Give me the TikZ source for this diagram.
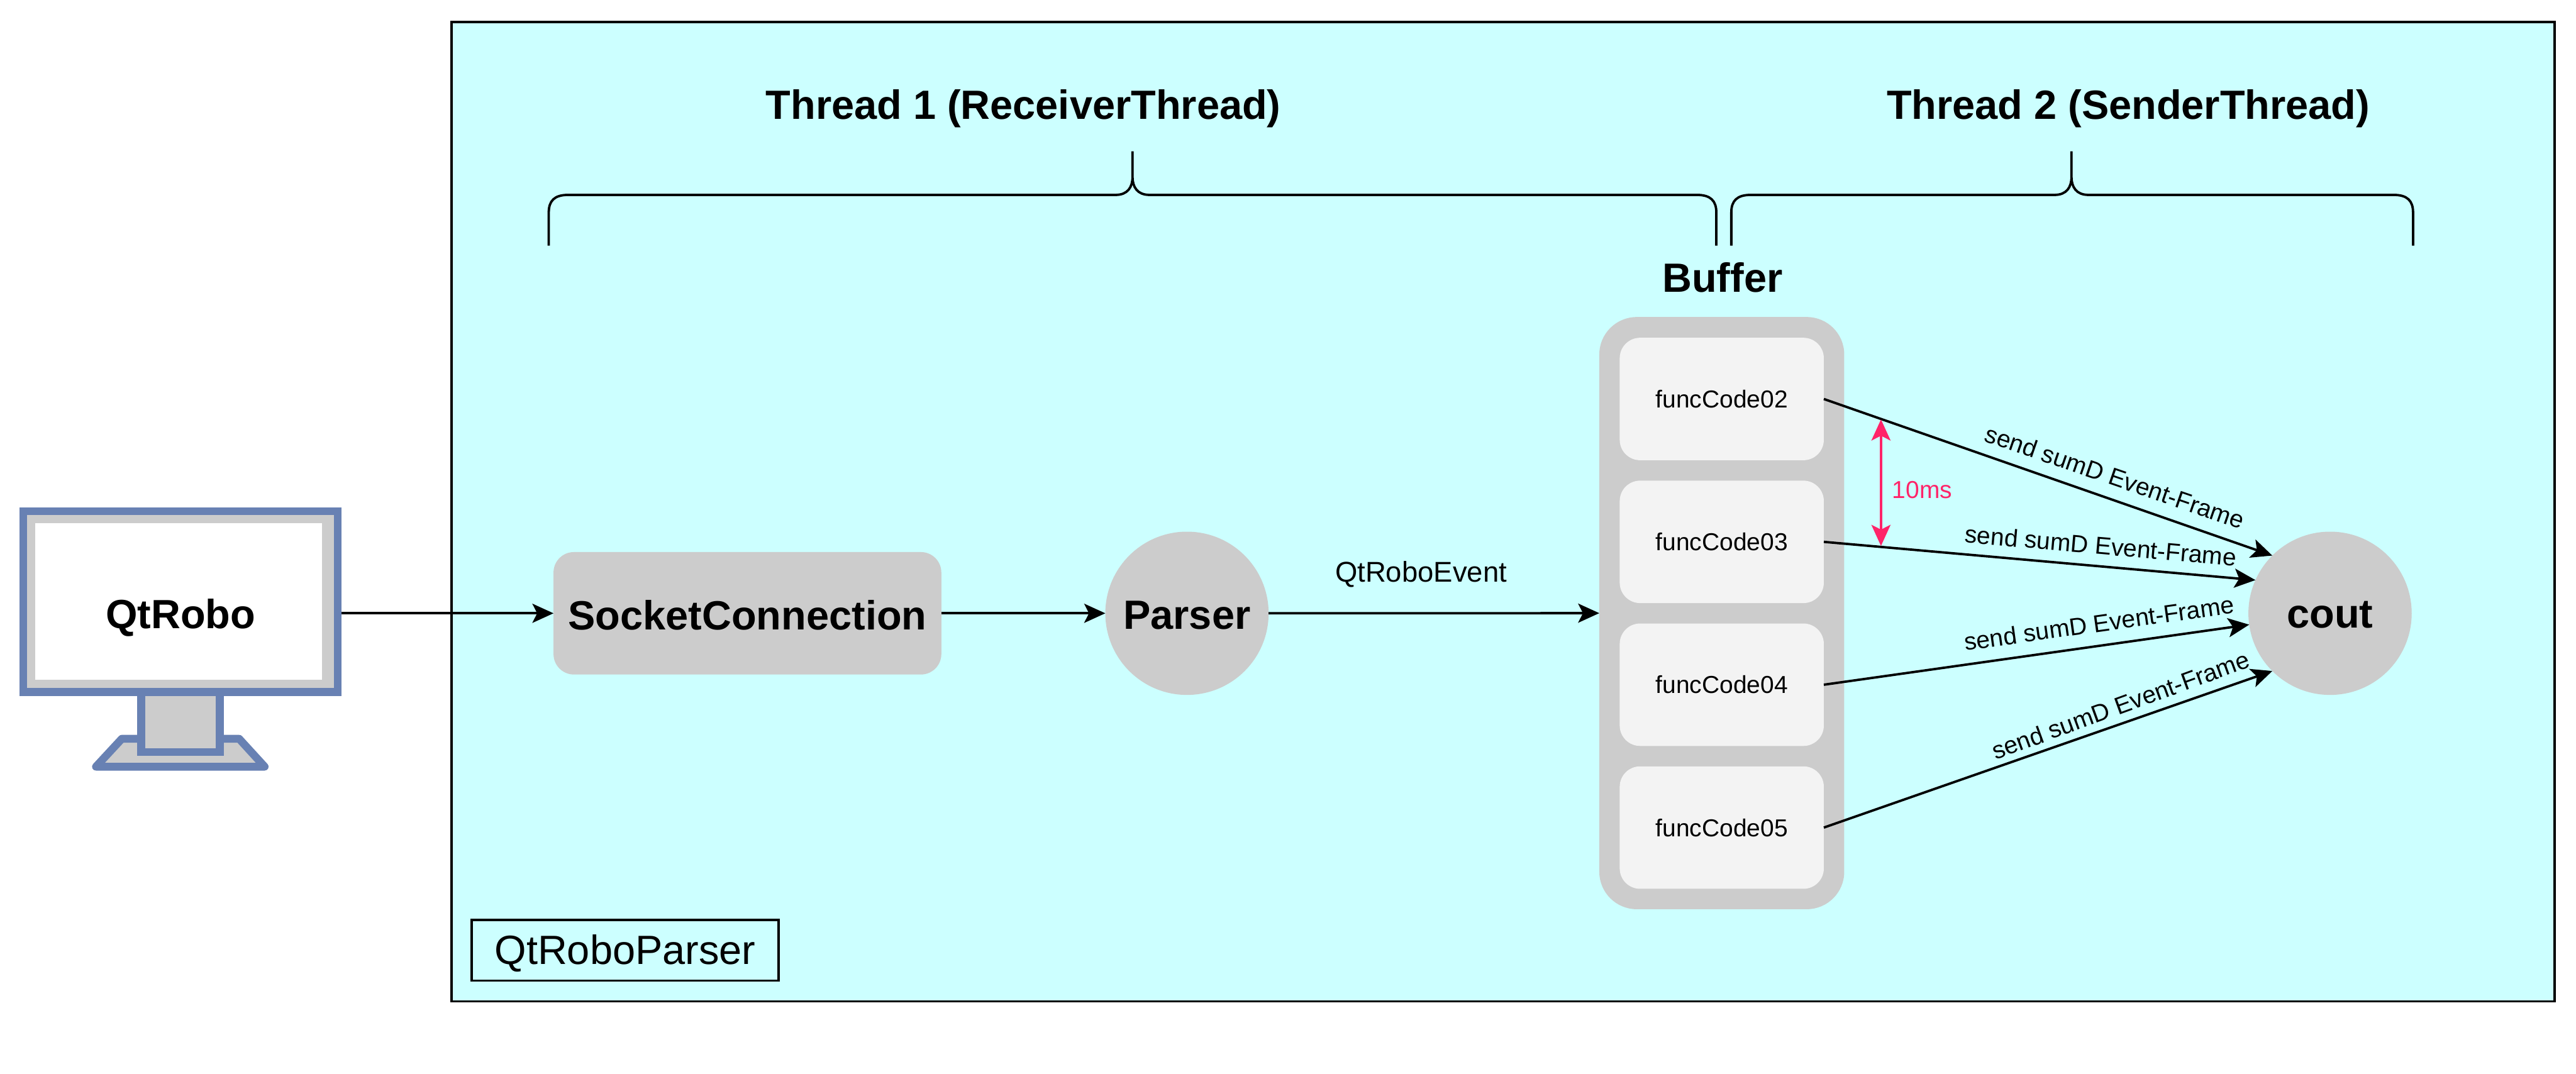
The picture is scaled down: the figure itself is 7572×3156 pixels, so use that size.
\documentclass[tikz,border=0pt]{standalone}
\usepackage{fontspec}
\setmainfont{Liberation Sans}
\usetikzlibrary{arrows.meta,calc}
\definecolor{bgcyan}{HTML}{CCFFFF}
\definecolor{boxgrey}{HTML}{CCCCCC}
\definecolor{boxlight}{HTML}{F3F3F3}
\definecolor{monblue}{HTML}{6881B3}
\definecolor{pink}{HTML}{FF2469}
\tikzset{
  every node/.style={inner sep=0pt,outer sep=0pt,align=center},
  line/.style={line width=0.7pt},
  arr/.style={line,-{Stealth[length=6.2pt,width=5.6pt,inset=1.4pt]}},
  pinkarr/.style={line,pink,{Stealth[length=6.2pt,width=5.6pt,inset=1.4pt]}-{Stealth[length=6.2pt,width=5.6pt,inset=1.4pt]}},
  bigtext/.style={font=\bfseries\fontsize{12}{14}\selectfont},
  smalltext/.style={font=\fontsize{7.2}{9}\selectfont},
  roundbox/.style={fill=boxgrey,rounded corners=6pt},
  func/.style={fill=boxlight,rounded corners=6pt,minimum width=60pt,minimum height=36pt,smalltext},
  circ/.style={circle,fill=boxgrey,minimum size=48pt},
  mon/.style={draw=monblue,line width=2.3pt,fill=boxgrey},
  brace/.style={line,line cap=butt}
}
\begin{document}
\begin{tikzpicture}[x=0.1pt,y=-0.1pt]
\useasboundingbox (0,0) rectangle (7572,3156);
% container
\node[draw=black,line,fill=bgcyan,minimum width=618.1pt,minimum height=288pt,anchor=north west] (parserbox) at (1328,64) {};
\node[draw=black,line,fill=bgcyan,minimum width=90.3pt,minimum height=17.9pt] (parsername) at (1837.5,2793.5) {};
\node[font=\fontsize{12}{14}\selectfont] (parsertext) at (1837.5,2803) {QtRoboParser};
% monitor
\coordinate (b1) at (282,2254);
\coordinate (b2) at (358,2172);
\coordinate (b3) at (703,2172);
\coordinate (b4) at (778,2254);
\draw[mon,line join=round] (b1) -- (b2) -- (b3) -- (b4) -- cycle;
\node[mon,minimum width=23.1pt,minimum height=30pt,anchor=north] (neck) at (530.5,1911) {};
\node[mon,minimum width=92.4pt,minimum height=53.2pt,outer sep=1.15pt] (frame) at (530.5,1768.5) {};
\node[fill=white,minimum width=84.3pt,minimum height=46.1pt] (qtrobo) at (524.5,1768.5) {};
\node[bigtext] (qtrobotext) at (531,1816) {QtRobo};
% thread headings
\node[bigtext] (t1) at (3008,319) {Thread 1 (ReceiverThread)};
\node[bigtext] (t2) at (6256,319) {Thread 2 (SenderThread)};
\node[bigtext] (buftitle) at (5063,816) {Buffer};
% braces
\coordinate (a1) at (1613,722);
\coordinate (a2) at (5045,722);
\coordinate (atip) at (3329,445);
\coordinate (c1) at (5089,722);
\coordinate (c2) at (7093,722);
\coordinate (ctip) at (6089,445);
\draw[brace] (a1) -- (1613,625) .. controls (1613,590) and (1630,573) .. (1670,573)
  -- (3279,573) .. controls (3315,573) and (3329,550) .. (3329,520) -- (atip)
  -- (3329,520) .. controls (3329,550) and (3343,573) .. (3379,573)
  -- (4988,573) .. controls (5028,573) and (5045,590) .. (5045,625) -- (a2);
\draw[brace] (c1) -- (5089,625) .. controls (5089,590) and (5106,573) .. (5146,573)
  -- (6039,573) .. controls (6075,573) and (6089,550) .. (6089,520) -- (ctip)
  -- (6089,520) .. controls (6089,550) and (6103,573) .. (6139,573)
  -- (7036,573) .. controls (7076,573) and (7093,590) .. (7093,625) -- (c2);
% nodes
\node[roundbox,minimum width=114pt,minimum height=36pt] (socket) at (2197,1803) {};
\node[bigtext] (sockettext) at (2197,1808) {SocketConnection};
\node[circ] (parser) at (3489,1803) {};
\node[bigtext] (parsertitle) at (3489,1808) {Parser};
\node[fill=boxgrey,rounded corners=11pt,minimum width=72pt,minimum height=174.1pt] (buffer) at (5061,1802.5) {};
\node[func] (f2) at (5061,1173) {funcCode02};
\node[func] (f3) at (5061,1593) {funcCode03};
\node[func] (f4) at (5061,2013) {funcCode04};
\node[func] (f5) at (5061,2433) {funcCode05};
\node[circ] (cout) at (6849,1803) {};
\node[bigtext] (couttext) at (6849,1808) {cout};
% connectors
\draw[arr] (frame.east|-socket) -- (socket.west);
\draw[arr] (socket) -- (parser);
\draw[arr] (parser) -- (buffer);
\draw[arr] (f2.east) -- (cout.135);
\draw[arr] (f3.east) -- (cout.156);
\draw[arr] (f4.east) -- (cout.188);
\draw[arr] (f5.east) -- (cout.225);
\coordinate (p1) at (5529,1233);
\coordinate (p2) at (5529,1605);
\draw[pinkarr] (p1) -- (p2);
% labels
\node[smalltext,text=pink] (ms) at (5650,1440) {10ms};
\node[font=\fontsize{8.4}{10}\selectfont] (evt) at (4177,1688) {QtRoboEvent};
\node[smalltext,rotate=-19] (l1) at (6217,1402) {send sumD Event-Frame};
\node[smalltext,rotate=-5] (l2) at (6175,1604) {send sumD Event-Frame};
\node[smalltext,rotate=8] (l3) at (6170,1832) {send sumD Event-Frame};
\node[smalltext,rotate=20] (l4) at (6233,2073) {send sumD Event-Frame};
\end{tikzpicture}
\end{document}
